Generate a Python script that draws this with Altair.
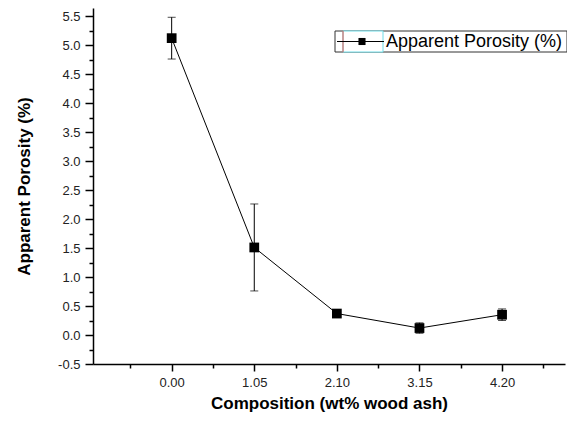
import altair as alt
import pandas as pd

# ---- data ----
composition = [0.00, 1.05, 2.10, 3.15, 4.20]
porosity = [5.12, 1.51, 0.37, 0.12, 0.35]
error = [0.36, 0.75, 0.04, 0.09, 0.10]

x_major = [0.00, 1.05, 2.10, 3.15, 4.20]
x_minor = [-0.525, 0.525, 1.575, 2.625, 3.675, 4.725]
y_major = [-0.5, 0.0, 0.5, 1.0, 1.5, 2.0, 2.5, 3.0, 3.5, 4.0, 4.5, 5.0, 5.5]
y_minor = [-0.25, 0.25, 0.75, 1.25, 1.75, 2.25, 2.75, 3.25, 3.75, 4.25, 4.75, 5.25]

x_title = "Composition (wt% wood ash)"
y_title = "Apparent Porosity (%)"
legend_label = "Apparent Porosity (%)"

df = pd.DataFrame({"comp": composition, "por": porosity, "err": error})
df["lo"] = df["por"] - df["err"]
df["hi"] = df["por"] + df["err"]

FONT = "Liberation Sans"
xs = alt.Scale(domain=[-1.0, 5.0], nice=False, zero=False)
ys = alt.Scale(domain=[-0.5, 5.64], nice=False, zero=False)

label_expr = "datum.value < 0 ? '-' + format(-datum.value, '.1f') : format(datum.value, '.1f')"

x_main_axis = alt.Axis(values=x_major, format=".2f", title=x_title, orient="bottom",
                       grid=False, tickSize=7, labelPadding=5, titlePadding=6,
                       labelFontSize=13, titleFontSize=17, titleFontWeight="bold",
                       labelColor="#222222", titleColor="black")
y_main_axis = alt.Axis(values=y_major, labelExpr=label_expr, title=y_title, orient="left",
                       grid=False, tickSize=8, labelPadding=5, titlePadding=24,
                       labelFontSize=13, titleFontSize=17, titleFontWeight="bold",
                       labelColor="#222222", titleColor="black")
x_minor_axis = alt.Axis(values=x_minor, labels=False, domain=False, title=None,
                        orient="bottom", grid=False, tickSize=4)
y_minor_axis = alt.Axis(values=y_minor, labels=False, domain=False, title=None,
                        orient="left", grid=False, tickSize=4)

base = alt.Chart(df)

line = base.mark_line(color="black", strokeWidth=1).encode(
    x=alt.X("comp:Q", scale=xs, axis=x_main_axis),
    y=alt.Y("por:Q", scale=ys, axis=y_main_axis),
)

bars = base.mark_rule(color="black", strokeWidth=1).encode(
    x=alt.X("comp:Q", scale=xs, axis=x_minor_axis),
    y=alt.Y("lo:Q", scale=ys, axis=y_minor_axis),
    y2="hi:Q",
)

caps_hi = base.mark_tick(color="black", orient="horizontal", size=8, thickness=1).encode(
    x=alt.X("comp:Q", scale=xs, axis=None),
    y=alt.Y("hi:Q", scale=ys, axis=None),
)
caps_lo = base.mark_tick(color="black", orient="horizontal", size=8, thickness=1).encode(
    x=alt.X("comp:Q", scale=xs, axis=None),
    y=alt.Y("lo:Q", scale=ys, axis=None),
)

points = base.mark_point(shape="square", filled=True, color="black", size=95, opacity=1).encode(
    x=alt.X("comp:Q", scale=xs, axis=None),
    y=alt.Y("por:Q", scale=ys, axis=None),
)

# ---- legend box (drawn as guide elements) ----
leg = alt.Chart(pd.DataFrame({"label": [legend_label]}))
leg_box = leg.mark_rect(fill="white", stroke="#333333", strokeWidth=1).encode(
    x=alt.value(242), x2=alt.value(474), y=alt.value(23), y2=alt.value(44))
leg_sel = leg.mark_rect(fill="white", stroke="#6fdde8", strokeWidth=1).encode(
    x=alt.value(250), x2=alt.value(290), y=alt.value(23), y2=alt.value(44))
leg_red = leg.mark_rule(color="#d9534f", strokeWidth=1).encode(
    x=alt.value(250), y=alt.value(23), y2=alt.value(44))
leg_line = leg.mark_rule(color="black", strokeWidth=1).encode(
    x=alt.value(244), x2=alt.value(291), y=alt.value(33.5))
leg_sq = leg.mark_point(shape="square", filled=True, color="black", size=50, opacity=1).encode(
    x=alt.value(269), y=alt.value(33.5))
leg_text = leg.mark_text(align="left", baseline="middle", font=FONT, fontSize=18,
                         color="black").encode(
    x=alt.value(293), y=alt.value(34), text="label:N")

chart = alt.layer(line, bars, caps_hi, caps_lo, points,
                  leg_box, leg_sel, leg_red, leg_line, leg_sq, leg_text).resolve_axis(
    x="independent", y="independent"
).properties(
    width=472, height=356,
    autosize=alt.AutoSizeParams(type="none"),
    padding={"left": 85, "top": 0, "right": 2, "bottom": 51},
).configure_view(stroke=None).configure_axis(
    domainColor="black", domainWidth=1.5, tickColor="black", tickWidth=1.5,
    labelFont=FONT, titleFont=FONT,
)

chart.save("out.html", embed_options={"renderer": "svg", "actions": False})
